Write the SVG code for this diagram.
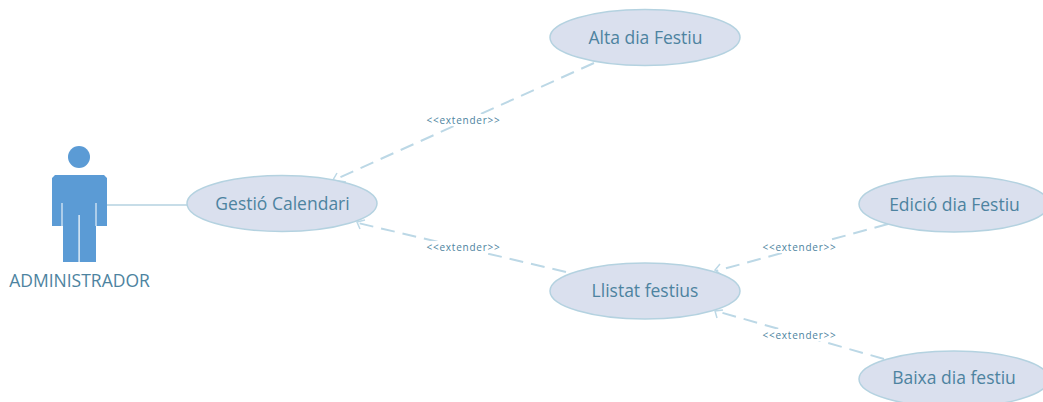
<svg xmlns="http://www.w3.org/2000/svg" width="1043" height="402" viewBox="0 0 1043 402">
<style>
.uc{fill:#dae0ee;stroke:#b4d2e0;stroke-width:1.5}
.t{font-family:"Open Sans","Noto Sans",sans-serif;font-size:17.5px;fill:#4d83a0;text-anchor:middle}
.a{font-family:"Open Sans","Noto Sans",sans-serif;font-size:17.5px;fill:#4d83a0;text-anchor:middle}
.l{font-family:"Open Sans","Noto Sans",sans-serif;font-size:10px;letter-spacing:.75px;fill:#4d83a0;text-anchor:middle}
.d{fill:none;stroke:#bcd8e6;stroke-width:2;stroke-dasharray:14 8}
.h{fill:none;stroke:#bcd8e6;stroke-width:1.5}
.b{fill:#fff}
</style>
<rect width="1043" height="402" fill="#fff"/>
<g id="connectors">
<line x1="107" y1="205" x2="188" y2="205" stroke="#b4d2e0" stroke-width="1.5"/>
<line class="d" x1="594" y1="63" x2="334" y2="180"/>
<path class="h" d="M337 173L333 180L346 182"/>
<line class="d" x1="566" y1="272" x2="358" y2="223"/>
<path class="h" d="M365 220L357 222L360 229"/>
<line class="d" x1="888" y1="224" x2="716" y2="271"/>
<path class="h" d="M720 264L715 270L723 276"/>
<line class="d" x1="884" y1="359" x2="716" y2="311"/>
<path class="h" d="M723 310L715 311L717 318"/>
<g>
<rect class="b" x="426" y="114" width="75" height="12"/><text class="l" x="463.500" y="124">&lt;&lt;extender&gt;&gt;</text>
<rect class="b" x="426" y="241" width="75" height="12"/><text class="l" x="463.500" y="251">&lt;&lt;extender&gt;&gt;</text>
<rect class="b" x="762" y="241" width="75" height="12"/><text class="l" x="799.500" y="251">&lt;&lt;extender&gt;&gt;</text>
<rect class="b" x="762" y="329" width="75" height="12"/><text class="l" x="799.500" y="339">&lt;&lt;extender&gt;&gt;</text>
</g>
</g>
<g id="actor-administrador">
<circle cx="79" cy="157" r="11" fill="#5b9bd5"/>
<path fill="#5b9bd5" d="M55 175H104L107 178V226H96V262H79.700V215H78.500V262H63V226H52V178Z"/>
<path d="M62 203V226M96 203V226" stroke="#fff" stroke-width="1" fill="none"/>
<text class="a" x="79.500" y="287">ADMINISTRADOR</text>
</g>
<g id="uc-gestio"><ellipse class="uc" cx="282" cy="203.500" rx="95" ry="28"/><text class="t" x="282.500" y="210">Gestió Calendari</text></g>
<g id="uc-alta"><ellipse class="uc" cx="645" cy="37.500" rx="95" ry="28"/><text class="t" x="645.500" y="43.500">Alta dia Festiu</text></g>
<g id="uc-llistat"><ellipse class="uc" cx="645" cy="291" rx="95" ry="28"/><text class="t" x="645" y="296.500">Llistat festius</text></g>
<g id="uc-edicio"><ellipse class="uc" cx="954" cy="204" rx="95" ry="28"/><text class="t" x="954.500" y="210.500">Edició dia Festiu</text></g>
<g id="uc-baixa"><ellipse class="uc" cx="954" cy="379" rx="95" ry="28"/><text class="t" x="954" y="384">Baixa dia festiu</text></g>
</svg>
